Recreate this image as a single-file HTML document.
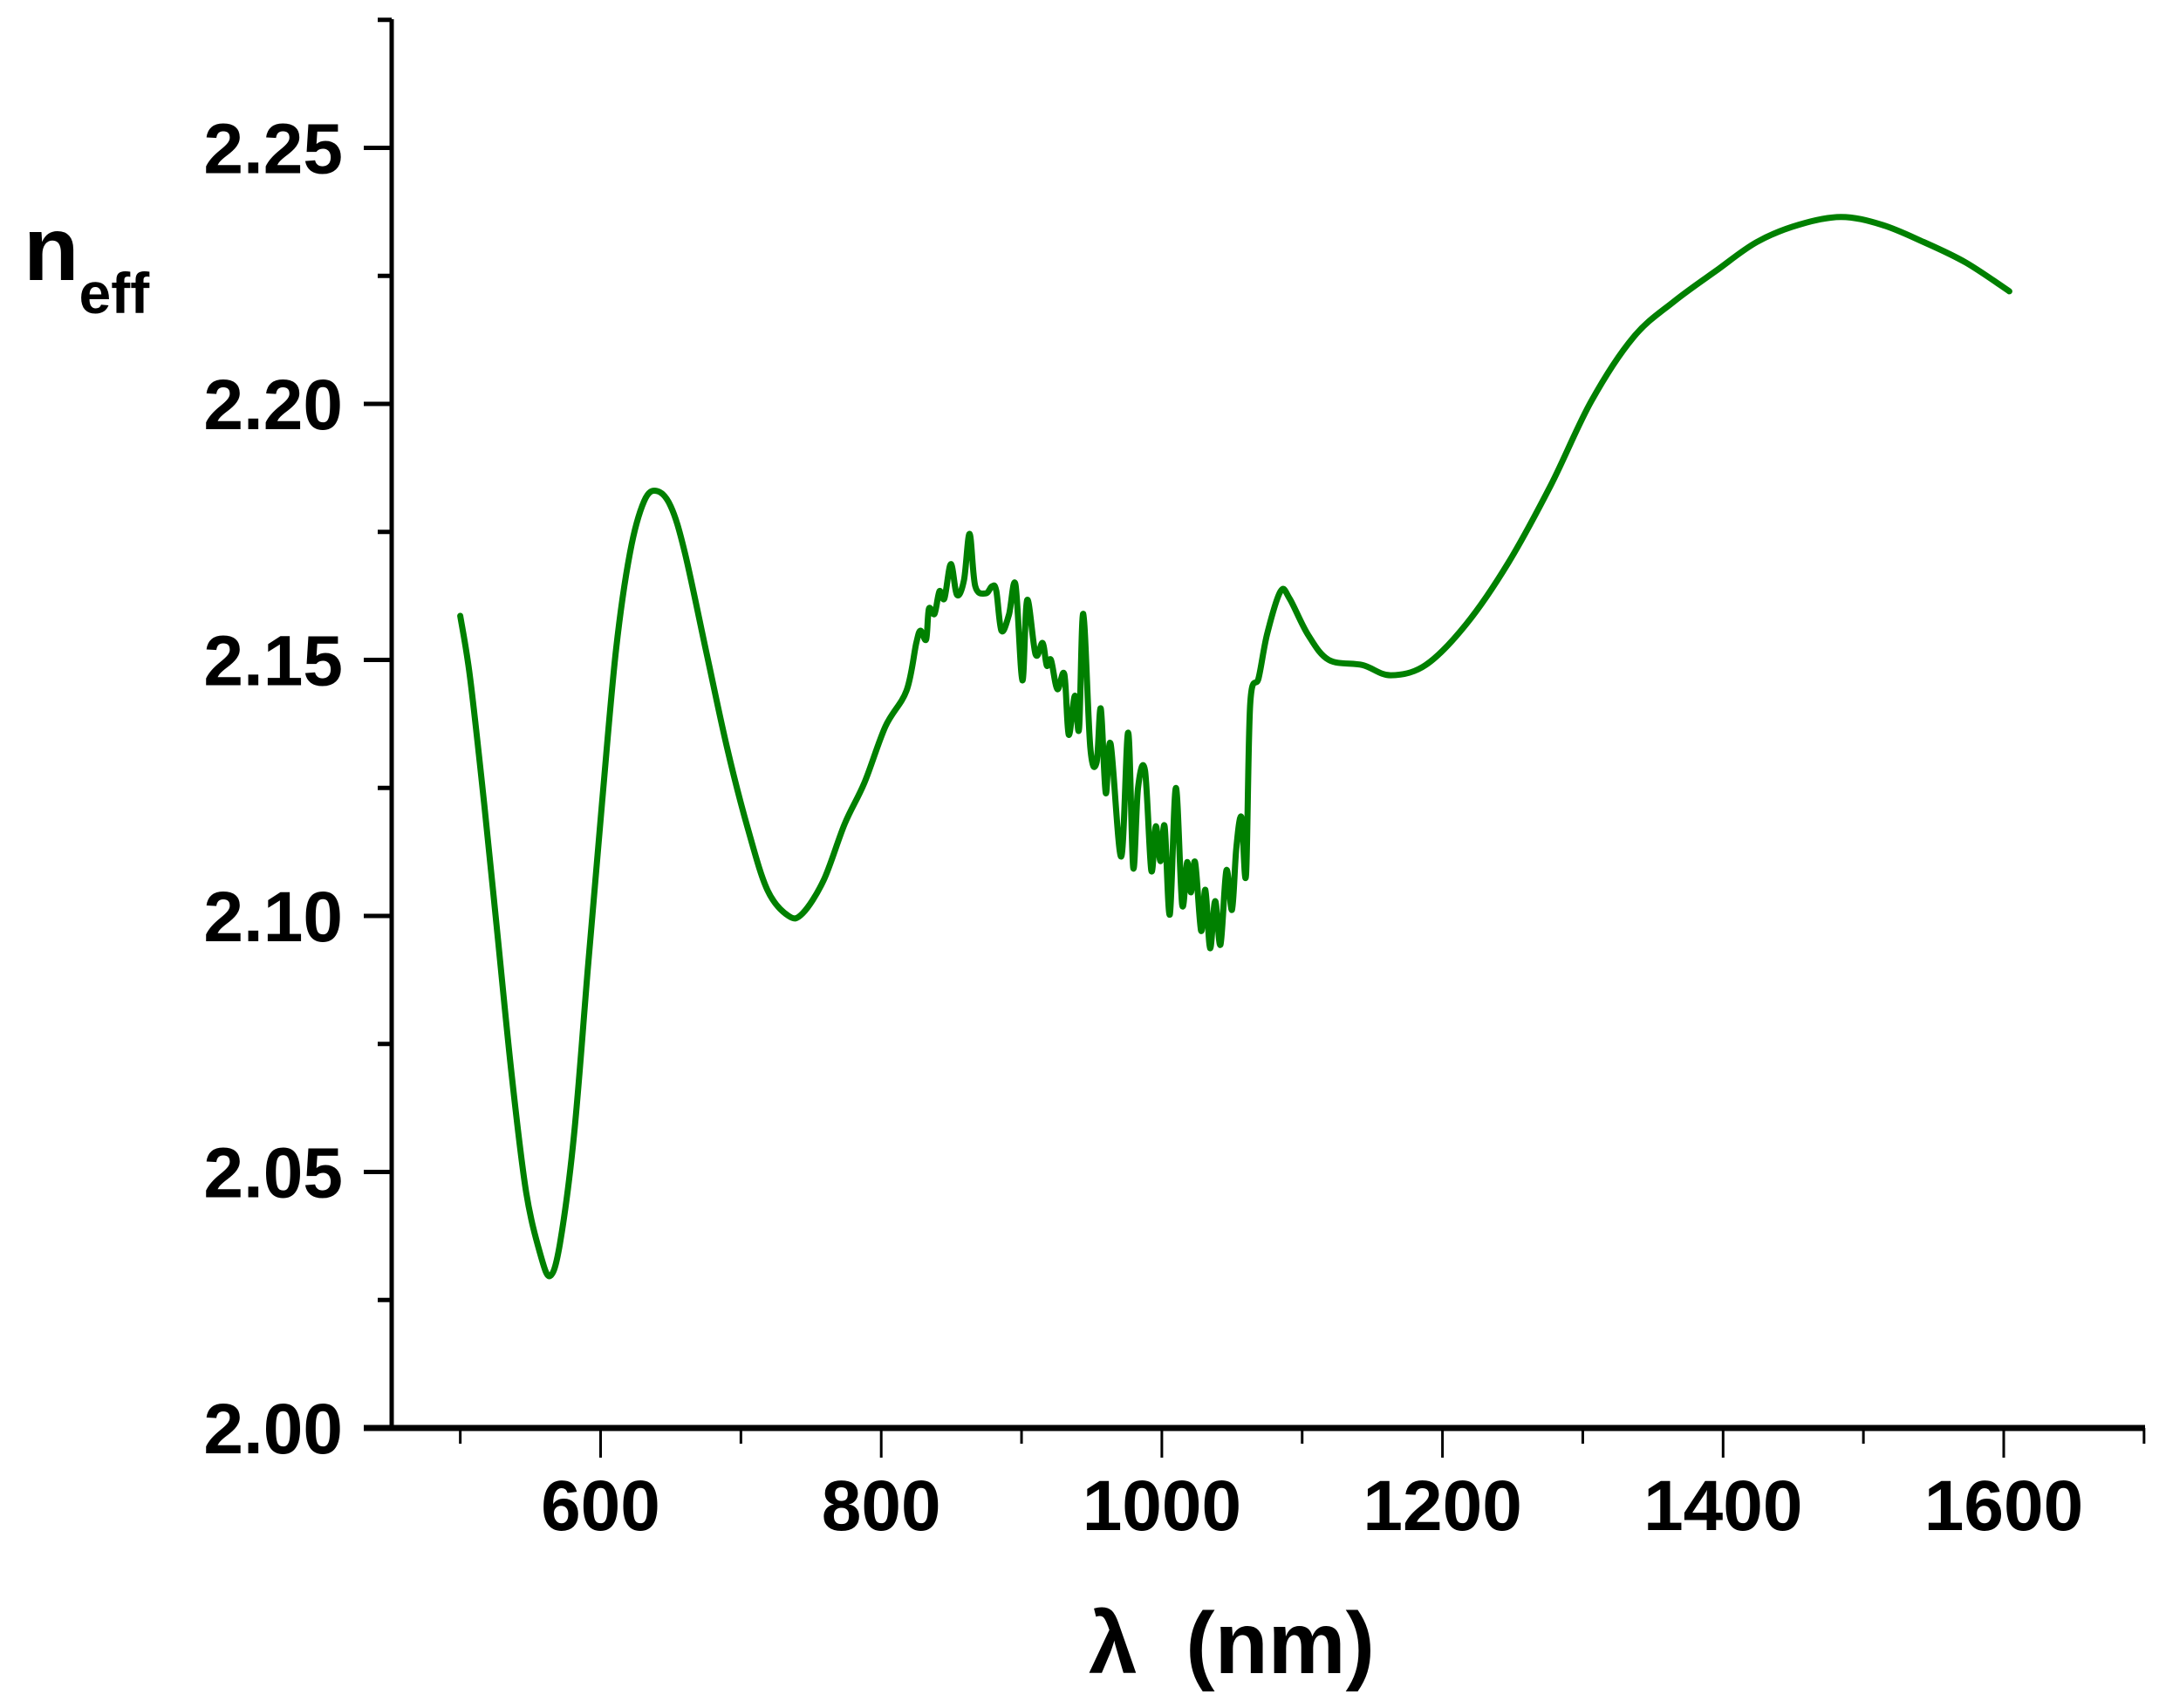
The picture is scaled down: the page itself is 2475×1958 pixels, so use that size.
<!DOCTYPE html>
<html><head><meta charset="utf-8"><style>
html,body{margin:0;padding:0;background:#fff;}
svg{display:block;font-family:"Liberation Sans",Arial,sans-serif;font-weight:bold;}
</style></head><body>
<svg id="chart" width="2475" height="1958" viewBox="0 0 2475 1958" xmlns="http://www.w3.org/2000/svg">
<g id="axes"></g>
<path id="series" fill="none" stroke="#008000" stroke-width="7" stroke-linejoin="round" stroke-linecap="round"/>
<text x="27" y="321" font-size="104">n<tspan font-size="66" dy="38">eff</tspan></text>
<text x="1412" y="1918" font-size="100" text-anchor="middle">λ&#160;&#160;(nm)</text>
</svg>
<script>
const wavelengths = [500,507,517,527,537,547,557,564,571,581,591,601,611,621,631,640,650,660,675,690,705,719,734,744,759,774,788,803,818,
825,828,832,834,838,841.5,845,849.6,854,859,863,867,874.5,879,882,885.7,891,895.7,900.6,904,910,915,918,921,925.5,930.5,933.6,938,941,944,949,953.5,956.5,960,963.5,971,976,979.6,983,988,992.5,995.7,999,1002,1005.7,1010,1014.5,1018,1020.7,1023.7,1028,1031,1034.4,1038,1041.8,1046,1050,1053,1056.7,1060,1063,1069,1075,1084.6,
1091,1104,1119,1143,1163,1188,1217,1247,1277,1306,1336,1365,1395,1424,1454,1484,1513,1543,1573,1604];
const neffValues = [2.1586,2.1465,2.122,2.095,2.068,2.046,2.034,2.0297,2.036,2.057,2.090,2.122,2.152,2.171,2.181,2.183,2.180,2.171,2.152,2.133,2.117,2.105,2.100,2.1005,2.107,2.118,2.126,2.137,2.144,
2.1533,2.1557,2.154,2.160,2.159,2.1634,2.162,2.1687,2.1627,2.1656,2.1746,2.1644,2.163,2.1644,2.1635,2.1557,2.1588,2.1647,2.146,2.1617,2.1511,2.1533,2.1489,2.150,2.1443,2.1472,2.1354,2.143,2.1366,2.159,2.1329,2.130,2.1405,2.124,2.1336,2.1116,2.1358,2.1094,2.125,2.1284,2.1089,2.1175,2.1107,2.1175,2.1003,2.125,2.1022,2.1105,2.1046,2.1105,2.0971,2.1051,2.0937,2.1029,2.0944,2.1089,2.1012,2.1131,2.1193,2.108,2.1414,2.1465,2.155,2.1634,
2.162,2.155,2.150,2.149,2.147,2.149,2.157,2.169,2.184,2.2005,2.213,2.220,2.226,2.2316,2.235,2.2365,2.235,2.2316,2.2276,2.222];
const xTickValues = [600,800,1000,1200,1400,1600];
const xMinorValues = [500,700,900,1100,1300,1500,1700];
const yTickLabels = ["2.00","2.05","2.10","2.15","2.20","2.25"];
const yMinorValues = [2.025,2.075,2.125,2.175,2.225,2.275];

function xs(v){return 688.5+(v-600)*1.6085;}
function ys(v){return 1637-(v-2)*5870;}
const NS="http://www.w3.org/2000/svg";
const axes=document.getElementById('axes');
function mk(tag,attrs){const e=document.createElementNS(NS,tag);for(const k in attrs)e.setAttribute(k,attrs[k]);axes.appendChild(e);return e;}

let e=mk('line',{x1:449,y1:22,x2:449,y2:1639,stroke:'#000','stroke-width':5});


e=mk('line',{x1:417,y1:1637,x2:2459,y2:1637,stroke:'#000','stroke-width':7});



xTickValues.forEach(v=>{
  const t=mk('line',{x1:xs(v),y1:1637,x2:xs(v),y2:1671,stroke:'#000','stroke-width':3});
  
  
  const l=mk('text',{x:xs(v),y:1754,'font-size':82,'text-anchor':'middle'});
  l.textContent=v;
  
  
});
xMinorValues.forEach(v=>{
  const t=mk('line',{x1:xs(v),y1:1637,x2:xs(v),y2:1655,stroke:'#000','stroke-width':3});
  
  
});
yTickLabels.forEach(s=>{
  const v=parseFloat(s);
  const t=mk('line',{x1:417,y1:ys(v),x2:449,y2:ys(v),stroke:'#000','stroke-width':5});
  
  
  const l=mk('text',{x:393,y:ys(v)+29,'font-size':82,'text-anchor':'end'});
  l.textContent=s;
  
  
});
yMinorValues.forEach(v=>{
  const t=mk('line',{x1:433,y1:ys(v),x2:449,y2:ys(v),stroke:'#000','stroke-width':5});
  
  
});

// Catmull-Rom smoothing through data points
const P=wavelengths.map((w,i)=>[xs(w),ys(neffValues[i])]);
let d='M'+P[0][0].toFixed(1)+' '+P[0][1].toFixed(1);
for(let i=0;i<P.length-1;i++){
  const p0=P[Math.max(0,i-1)],p1=P[i],p2=P[i+1],p3=P[Math.min(P.length-1,i+2)];
  const c1=[p1[0]+(p2[0]-p0[0])/6,p1[1]+(p2[1]-p0[1])/6];
  const c2=[p2[0]-(p3[0]-p1[0])/6,p2[1]-(p3[1]-p1[1])/6];
  d+='C'+c1[0].toFixed(1)+' '+c1[1].toFixed(1)+' '+c2[0].toFixed(1)+' '+c2[1].toFixed(1)+' '+p2[0].toFixed(1)+' '+p2[1].toFixed(1);
}
document.getElementById('series').setAttribute('d',d);
</script>
</body></html>
